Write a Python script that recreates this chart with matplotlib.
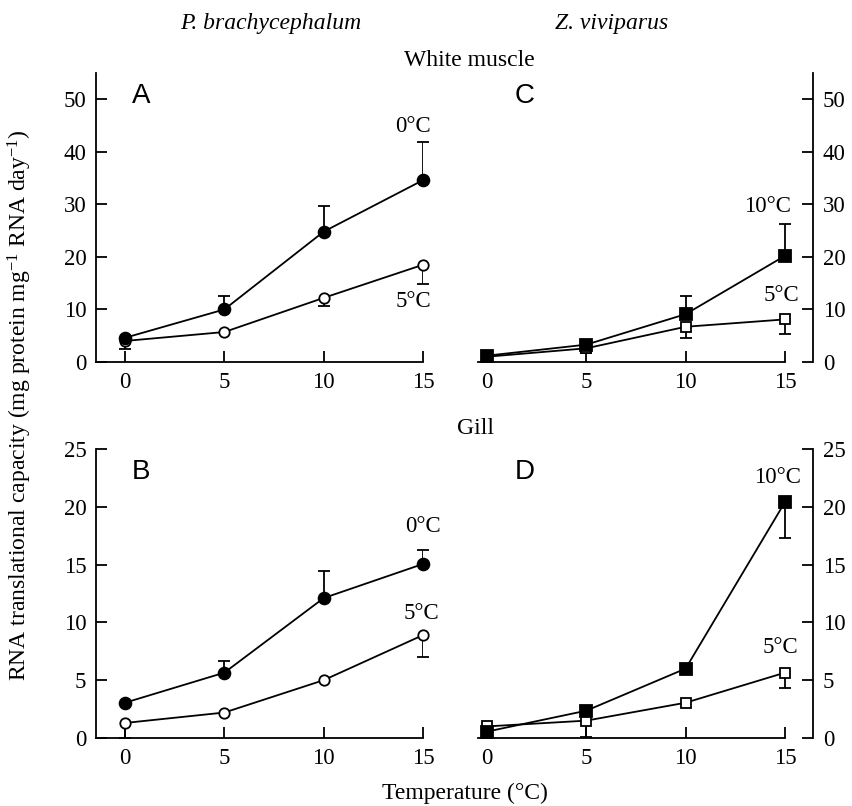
import matplotlib
matplotlib.use("Agg")
import matplotlib.pyplot as plt
import numpy as np

plt.rcParams['font.family'] = ['Liberation Serif', 'DejaVu Serif']
plt.rcParams['mathtext.fontset'] = 'custom'
plt.rcParams['mathtext.rm'] = 'Liberation Serif'
plt.rcParams['mathtext.it'] = 'Liberation Serif:italic'

# temperature of measurement
temps = [0, 5, 10, 15]

# P. brachycephalum, white muscle (A)
A_cold = [4.6, 10.0, 24.8, 34.6]      # 0°C acclimated
A_cold_up = [0, 2.5, 4.8, 7.3]
A_warm = [4.0, 5.7, 12.2, 18.5]       # 5°C acclimated
A_warm_dn = [1.5, 0, 1.6, 3.6]

# P. brachycephalum, gill (B)
B_cold = [3.05, 5.65, 12.1, 15.05]
B_cold_up = [0, 1.05, 2.35, 1.25]
B_warm = [1.3, 2.2, 5.0, 8.9]
B_warm_dn = [1.3, 0, 0, 1.9]

# Z. viviparus, white muscle (C)
C_hot = [1.2, 3.3, 9.1, 20.2]         # 10°C acclimated
C_hot_up = [0, 0, 3.4, 6.1]
C_warm = [1.0, 2.6, 6.7, 8.1]         # 5°C acclimated
C_warm_dn = [0, 0.8, 2.1, 2.8]

# Z. viviparus, gill (D)
D_hot = [0.55, 2.36, 6.0, 20.4]
D_hot_dn = [0, 0, 0, 3.1]
D_warm = [1.0, 1.5, 3.05, 5.65]
D_warm_dn = [0, 1.4, 0, 1.35]

fig = plt.figure(figsize=(8.52, 8.06), dpi=100)
axA = fig.add_axes([0.1127, 0.5509, 0.3838, 0.3586])
axB = fig.add_axes([0.1127, 0.0844, 0.3838, 0.3586])
axC = fig.add_axes([0.5610, 0.5509, 0.3932, 0.3586])
axD = fig.add_axes([0.5610, 0.0844, 0.3932, 0.3586])


def series(ax, y, err, sign, marker, filled):
    x = np.array(temps, dtype=float)
    y = np.array(y, dtype=float)
    err = np.array(err, dtype=float)
    m = err > 0
    ends = y + sign * err
    ax.vlines(x[m], y[m], ends[m], color='black', lw=1.3, zorder=2)
    ax.plot(x[m], ends[m], ls='none', marker='_', ms=9, mew=1.3,
            color='black', zorder=2, clip_on=False)
    ax.plot(x, y, color='black', lw=1.3, marker=marker,
            ms=8.5 if filled else 7.5, mew=1.3,
            mfc='black' if filled else 'white', mec='black',
            zorder=3, clip_on=False)


def style(ax, left_side, ymax):
    ax.set_ylim(0, ymax)
    ax.set_xticks(temps)
    ax.tick_params(direction='in', length=8, width=1.3, labelsize=16.5, pad=7)
    ax.spines['top'].set_visible(False)
    for s in ax.spines.values():
        s.set_linewidth(1.3)
    if left_side:
        ax.set_xlim(-1.46, 15)
        ax.spines['right'].set_visible(False)
    else:
        ax.set_xlim(-0.45, 16.41)
        ax.spines['left'].set_visible(False)
        ax.spines['bottom'].set_bounds(-0.45, 15)
        ax.yaxis.tick_right()


style(axA, True, 55)
style(axC, False, 55)
style(axB, True, 25)
style(axD, False, 25)
for ax in (axA, axC):
    ax.set_yticks([0, 10, 20, 30, 40, 50])
for ax in (axB, axD):
    ax.set_yticks([0, 5, 10, 15, 20, 25])

series(axA, A_warm, A_warm_dn, -1, 'o', False)
series(axA, A_cold, A_cold_up, 1, 'o', True)
series(axB, B_warm, B_warm_dn, -1, 'o', False)
series(axB, B_cold, B_cold_up, 1, 'o', True)
series(axC, C_warm, C_warm_dn, -1, 's', False)
series(axC, C_hot, C_hot_up, 1, 's', True)
series(axD, D_warm, D_warm_dn, -1, 's', False)
series(axD, D_hot, D_hot_dn, -1, 's', True)

lab = dict(fontsize=16.5, ha='center', va='center')
axA.text(14.5, 44.8, '0°C', **lab)
axA.text(14.5, 11.5, '5°C', **lab)
axB.text(15.0, 18.3, '0°C', **lab)
axB.text(14.9, 10.8, '5°C', **lab)
axC.text(14.1, 29.6, '10°C', **lab)
axC.text(14.8, 12.6, '5°C', **lab)
axD.text(14.6, 22.5, '10°C', **lab)
axD.text(14.75, 7.8, '5°C', **lab)

for ax, letter in ((axA, 'A'), (axB, 'B'), (axC, 'C'), (axD, 'D')):
    ax.text(0.11, 0.92, letter, transform=ax.transAxes, fontsize=20,
            family=['Liberation Sans', 'DejaVu Sans'], ha='left', va='center')

fig.text(271 / 852, 1 - 24 / 806, 'P. brachycephalum', style='italic',
         fontsize=17, ha='center', va='center')
fig.text(612 / 852, 1 - 24 / 806, 'Z. viviparus', style='italic',
         fontsize=17, ha='center', va='center')
fig.text(469 / 852, 1 - 60 / 806, 'White muscle', fontsize=17,
         ha='center', va='center')
fig.text(476 / 852, 1 - 428 / 806, 'Gill', fontsize=17,
         ha='center', va='center')
fig.text(465 / 852, 1 - 793 / 806, 'Temperature (°C)', fontsize=17,
         ha='center', va='center')
fig.text(20 / 852, 1 - 405 / 806,
         'RNA translational capacity (mg protein mg$^{\\mathrm{\u22121}}$ RNA day$^{\\mathrm{\u22121}}$)',
         fontsize=17, rotation=90, ha='center', va='center')

fig.savefig('out.png', dpi=100)
